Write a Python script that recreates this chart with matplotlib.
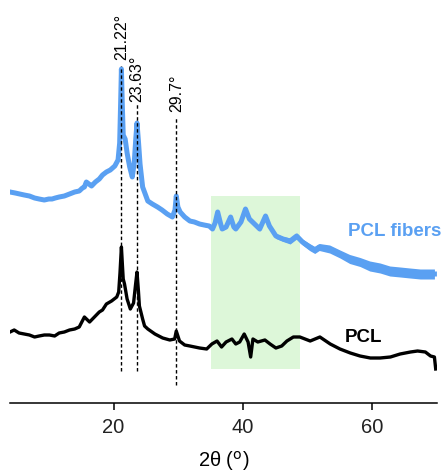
import matplotlib
matplotlib.use("Agg")
import matplotlib.pyplot as plt
import numpy as np

plt.rcParams['font.family'] = ['Liberation Sans', 'DejaVu Sans']

# XRD pattern of electrospun PCL fibers (2-theta in degrees, intensity in a.u.)
fiber_2theta = [4.0, 4.8, 5.5, 6.2, 7.0, 7.8, 8.5, 9.3, 10.0, 10.5, 11.0, 11.6, 12.4, 13.2,
                14.0, 14.7, 15.2, 15.5, 15.8, 16.2, 16.6, 17.2, 17.8, 18.3, 18.9, 19.5,
                20.2, 20.7, 20.95, 21.1, 21.22, 21.35, 21.5, 21.8, 22.1, 22.5,
                22.9, 23.2, 23.45, 23.63, 23.85, 24.1, 24.5, 25.3, 26.0, 26.8, 27.5, 28.3,
                29.1, 29.5, 29.7, 29.95, 30.3, 31.0, 31.8, 32.5, 33.3, 34.0, 34.8, 35.3,
                35.7, 36.1, 36.6, 36.8, 37.4, 38.1, 38.6, 38.9, 39.7, 40.4, 41.0, 41.8,
                42.6, 43.5, 44.1, 45.1, 46.2, 47.3, 48.3, 49.2, 50.3, 51.1, 51.8, 53.4,
                55.0, 56.5, 58.1, 59.6, 61.2, 62.7, 64.3, 65.8, 67.4, 68.9, 69.6]
fiber_intensity = [211, 210, 209, 208, 207, 205, 204, 203, 204, 204, 205, 206, 207, 209,
                   211, 212, 215, 216, 221, 219, 217, 221, 224, 228, 231, 233,
                   237, 243, 260, 300, 334, 300, 268, 264, 250, 236,
                   226, 240, 265, 280, 262, 239, 216, 202, 199, 196, 193, 189,
                   186, 193, 207, 196, 191, 186, 182, 181, 179, 178, 177, 174,
                   180, 191, 178, 174, 176, 186, 176, 174, 181, 194, 184, 179,
                   174, 187, 177, 167, 164, 162, 167, 161, 156, 153, 156, 154,
                   149, 144, 141, 137, 135, 132, 131, 130, 129, 129, 129]
# half-width of the noisy band around the fiber trace
fiber_noise = [0, 0, 0, 0, 0, 0, 0, 0, 0, 0, 0, 0, 0, 0,
               0, 0, 0, 0, 0, 0, 0, 0, 0, 0, 0, 0,
               0, 0, 0, 0, 0, 0, 0, 0, 0, 0,
               0, 0, 0, 0, 0, 0, 1, 1, 1, 1, 1, 1,
               1, 1, 1, 1, 1.5, 1.5, 1.5, 1.5, 1.5, 1.5, 1.5, 1.5,
               1.5, 1.5, 1.5, 1.5, 1.5, 1.5, 1.5, 1.5, 2, 2, 2, 2,
               2, 2, 2.5, 2.5, 2.5, 3, 3, 3, 3.5, 3.5, 3.5, 4,
               4, 4.5, 4.5, 5, 5, 5, 5, 5, 5, 5, 5]

# XRD pattern of bulk PCL
pcl_2theta = [4.0, 4.65, 5.4, 6.2, 7.0, 7.8, 8.5, 9.3, 10.1, 10.9, 11.6, 12.4, 13.2, 14.0,
              14.7, 15.5, 16.3, 17.05, 17.8, 18.3, 18.9, 19.7, 20.5, 20.8, 21.0, 21.22,
              21.4, 21.5, 21.7, 22.1, 22.6, 23.1, 23.4, 23.63, 23.85, 24.0, 24.5, 24.8,
              25.3, 26.4, 27.0, 27.6, 28.7, 29.45, 29.7, 30.2, 31.0, 31.8, 33.3, 34.4,
              35.2, 36.0, 36.7, 37.4, 38.3, 38.9, 39.5, 40.2, 40.8, 41.2, 41.55, 42.3,
              43.4, 44.2, 45.1, 46.0, 46.8, 47.8, 48.8, 50.4, 51.9, 53.5, 55.0, 56.6,
              58.1, 59.7, 61.2, 62.8, 64.3, 65.9, 67.0, 68.2, 69.0, 69.6, 69.8]
pcl_intensity = [71, 73, 70, 69, 68, 66, 67, 68, 68, 67, 70, 71, 73, 74,
                 76, 86, 81, 86, 91, 93, 99, 102, 106, 111, 130, 156,
                 135, 124, 119, 104, 94, 100, 118, 131, 112, 97, 84, 77,
                 74, 69, 67, 65, 63, 64, 72, 62, 58, 57, 55, 54,
                 59, 62, 56, 61, 64, 59, 61, 69, 61, 46, 64, 61,
                 63, 59, 55, 57, 62, 66, 66, 62, 66, 59, 54, 50,
                 47, 45, 45, 46, 49, 51, 52, 51, 47, 46, 34]

# labelled reflections
peak_positions = [21.22, 23.63, 29.7]
peak_labels = ["21.22°", "23.63°", "29.7°"]
peak_line_bottom = [32, 32, 18]
peak_line_top = [337, 299, 286]
peak_label_base = [344, 302, 292]

# highlighted angular range
band_range = (35.0, 48.8)
band_height = (34, 207)

xticks = [20, 40, 60]

blue = '#5aa0f2'

fig = plt.figure(figsize=(4.44, 4.77), dpi=100)
ax = fig.add_axes([10 / 444, 73 / 477, 427 / 444, 404 / 477])

ax.fill_between(band_range, band_height[0], band_height[1], color='#ddf7d9', lw=0, zorder=0)

fx = np.array(fiber_2theta)
fy = np.array(fiber_intensity)
fn = np.array(fiber_noise)
ax.fill_between(fx, fy - fn, fy + fn, color=blue, lw=0, zorder=2)
ax.plot(fx, fy, color=blue, lw=3.6, solid_joinstyle='round', zorder=3)

ax.plot(pcl_2theta, pcl_intensity, color='black', lw=2.4, solid_joinstyle='round', zorder=3)

for pos, lab, y0, y1, yl in zip(peak_positions, peak_labels, peak_line_bottom,
                                  peak_line_top, peak_label_base):
    ax.plot([pos, pos], [y0, y1], color='black', lw=1.0, ls=(0, (2.5, 1.8)), zorder=4)
    ax.text(pos, yl, lab, rotation=90, ha='center', va='bottom', fontsize=11.5, color='black')

ax.text(56.3, 172, "PCL fibers", color=blue, fontsize=13.5, fontweight='bold',
        ha='left', va='center')
ax.text(55.8, 67, "PCL", color='black', fontsize=13.5, fontweight='bold',
        ha='left', va='center')

ax.set_xlim(4, 70)
ax.set_ylim(0, 404)
ax.set_xticks(xticks)
ax.set_xticklabels([str(t) for t in xticks], fontsize=14.5, color='#222222')
ax.set_yticks([])
for s in ['left', 'right', 'top']:
    ax.spines[s].set_visible(False)
ax.spines['bottom'].set_linewidth(1.1)
ax.tick_params(axis='x', length=5, width=1.1, pad=5)
ax.set_xlabel(r'2θ ($^{\mathrm{o}}$)', fontsize=14.5, labelpad=9)

fig.savefig('out.png', dpi=100)
